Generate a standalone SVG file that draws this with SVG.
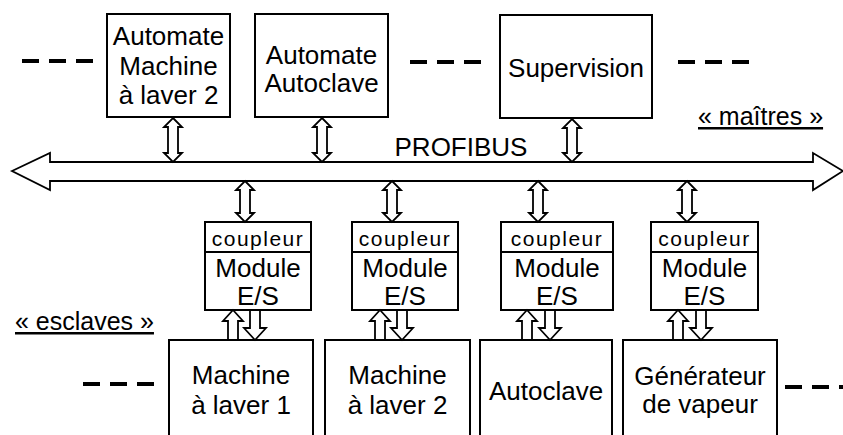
<svg xmlns="http://www.w3.org/2000/svg" width="843" height="435" viewBox="0 0 843 435">
<style>
.box{fill:#fff;stroke:#000;stroke-width:2}
.arr{fill:#fff;stroke:#000;stroke-width:1.8;stroke-linejoin:miter}
.dash{stroke:#000;stroke-width:4;stroke-dasharray:17 10;fill:none}
.t{font-family:"Liberation Sans",Arial,Helvetica,sans-serif;font-size:26px;fill:#000;text-anchor:middle}
.c{font-family:"Liberation Sans",Arial,Helvetica,sans-serif;font-size:21px;letter-spacing:1.5px;fill:#000;text-anchor:middle}
.u{font-family:"Liberation Sans",Arial,Helvetica,sans-serif;font-size:25px;fill:#000;text-decoration:underline}
</style>
<rect width="843" height="435" fill="#fff"/>
<g id="bus">
<polygon class="arr" points="12,171 50,153 50,162 813,162 813,153 843,171 813,190 813,181 50,181 50,190"/>
<text class="t" x="461" y="156">PROFIBUS</text>
</g>
<g id="labels">
<text class="u" x="698" y="125">« maîtres »</text>
<text class="u" x="15" y="330">« esclaves »</text>
</g>
<g id="dashes">
<line class="dash" x1="22" y1="61" x2="95" y2="61"/>
<line class="dash" x1="410" y1="62" x2="482" y2="62"/>
<line class="dash" x1="678" y1="62" x2="750" y2="62"/>
<line class="dash" x1="83" y1="384" x2="155" y2="384"/>
<line class="dash" x1="785" y1="387" x2="843" y2="387"/>
</g>
<g id="automate-machine">
<rect class="box" x="107" y="14" width="123" height="103"/>
<text class="t" x="168.5" y="45">Automate</text>
<text class="t" x="168.5" y="75">Machine</text>
<text class="t" x="168.5" y="104">à laver 2</text>
</g>
<g id="automate-autoclave">
<rect class="box" x="255" y="14" width="133" height="103"/>
<text class="t" x="321.5" y="64">Automate</text>
<text class="t" x="321.5" y="92">Autoclave</text>
</g>
<g id="supervision">
<rect class="box" x="500" y="15" width="152" height="103"/>
<text class="t" x="576" y="77">Supervision</text>
</g>
<g id="module1">
<rect class="box" x="205" y="222" width="106" height="88"/>
<line x1="205" y1="252" x2="311" y2="252" stroke="#000" stroke-width="2"/>
<text class="c" x="258" y="246">coupleur</text>
<text class="t" x="258" y="277">Module</text>
<text class="t" x="258" y="305">E/S</text>
</g>
<g id="module2">
<rect class="box" x="352" y="222" width="106" height="88"/>
<line x1="352" y1="252" x2="458" y2="252" stroke="#000" stroke-width="2"/>
<text class="c" x="405" y="246">coupleur</text>
<text class="t" x="405" y="277">Module</text>
<text class="t" x="405" y="305">E/S</text>
</g>
<g id="module3">
<rect class="box" x="501" y="222" width="112" height="88"/>
<line x1="501" y1="252" x2="613" y2="252" stroke="#000" stroke-width="2"/>
<text class="c" x="557" y="246">coupleur</text>
<text class="t" x="557" y="277">Module</text>
<text class="t" x="557" y="305">E/S</text>
</g>
<g id="module4">
<rect class="box" x="651" y="222" width="107" height="88"/>
<line x1="651" y1="252" x2="758" y2="252" stroke="#000" stroke-width="2"/>
<text class="c" x="704.5" y="246">coupleur</text>
<text class="t" x="704.5" y="277">Module</text>
<text class="t" x="704.5" y="305">E/S</text>
</g>
<g id="machine1">
<rect class="box" x="169" y="340" width="144" height="110"/>
<text class="t" x="241" y="384">Machine</text>
<text class="t" x="241" y="414">à laver 1</text>
</g>
<g id="machine2">
<rect class="box" x="325" y="340" width="145" height="110"/>
<text class="t" x="397.5" y="384">Machine</text>
<text class="t" x="397.5" y="414">à laver 2</text>
</g>
<g id="autoclave">
<rect class="box" x="480" y="340" width="132" height="110"/>
<text class="t" x="546" y="400">Autoclave</text>
</g>
<g id="generateur">
<rect class="box" x="623" y="340" width="154" height="110"/>
<text class="t" x="700" y="385">Générateur</text>
<text class="t" x="700" y="413">de vapeur</text>
</g>
<g id="connectors">
<polygon class="arr" points="173,118 182,127 178,127 178,153 182,153 173,162 164,153 168,153 168,127 164,127"/>
<polygon class="arr" points="322,118 331,127 327,127 327,153 331,153 322,162 313,153 317,153 317,127 313,127"/>
<polygon class="arr" points="572,119 581,128 577,128 577,153 581,153 572,162 563,153 567,153 567,128 563,128"/>
<polygon class="arr" points="245,181 254,190 250,190 250,213 254,213 245,222 236,213 240,213 240,190 236,190"/>
<polygon class="arr" points="392,181 401,190 397,190 397,213 401,213 392,222 383,213 387,213 387,190 383,190"/>
<polygon class="arr" points="538,181 547,190 543,190 543,213 547,213 538,222 529,213 533,213 533,190 529,190"/>
<polygon class="arr" points="687,181 696,190 692,190 692,213 696,213 687,222 678,213 682,213 682,190 678,190"/>
<polygon class="arr" points="233,310 243,321 238,321 238,340 228,340 228,321 223,321"/>
<polygon class="arr" points="250,310 260,310 260,328 266,328 255,340 244,328 250,328"/>
<polygon class="arr" points="380,310 390,321 385,321 385,340 375,340 375,321 370,321"/>
<polygon class="arr" points="397,310 407,310 407,328 413,328 402,340 391,328 397,328"/>
<polygon class="arr" points="527,310 537,321 532,321 532,340 522,340 522,321 517,321"/>
<polygon class="arr" points="545,310 555,310 555,328 561,328 550,340 539,328 545,328"/>
<polygon class="arr" points="678,310 688,321 683,321 683,340 673,340 673,321 668,321"/>
<polygon class="arr" points="696,310 706,310 706,328 712,328 701,340 690,328 696,328"/>
</g>
</svg>
